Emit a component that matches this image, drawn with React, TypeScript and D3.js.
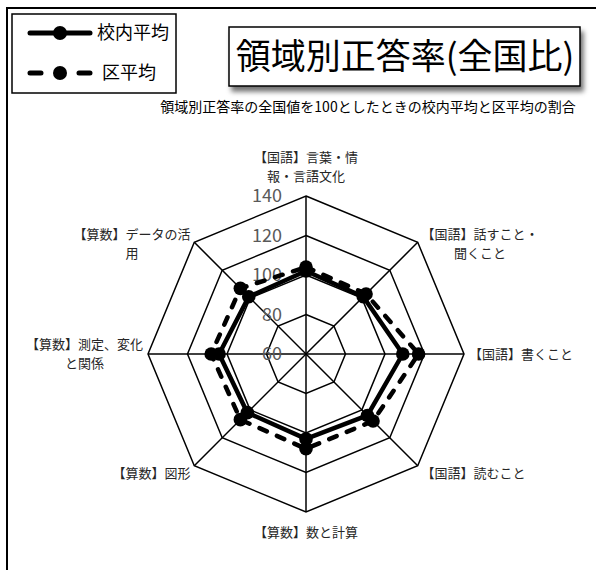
import React from 'react';
import * as d3 from 'd3';

// categories (clockwise from the top), split into the lines Excel wraps them to
const categories = [
  ['【国語】言葉・情', '報・言語文化'],
  ['【国語】話すこと・', '聞くこと'],
  ['【国語】書くこと'],
  ['【国語】読むこと'],
  ['【算数】数と計算'],
  ['【算数】図形'],
  ['【算数】測定、変化', 'と関係'],
  ['【算数】データの活', '用'],
];
const schoolAvg = [102, 101, 109, 104, 103, 102, 104, 101];
const wardAvg = [104, 103, 117, 108, 108, 107, 108, 107];
const tickValues = [60, 80, 100, 120, 140];
const seriesNames = ['校内平均', '区平均'];
const titleText = '領域別正答率(全国比)';
const subtitleText = '領域別正答率の全国値を100としたときの校内平均と区平均の割合';

const FONT = '"Noto Sans CJK JP", "Noto Sans", sans-serif';

function RadarChart() {
  const svgRef = React.useRef<SVGSVGElement>(null);

  const width = 596;
  const height = 570;
  const cx = 306;
  const cy = 354;
  const R = 158;

  React.useEffect(() => {
    const svg = d3.select(svgRef.current);
    svg.selectAll('*').remove();

    // drop shadow for the title box
    const defs = svg.append('defs');
    defs.append('filter')
      .attr('id', 'shadow')
      .attr('x', '-10%').attr('y', '-20%').attr('width', '130%').attr('height', '160%')
      .append('feDropShadow')
      .attr('dx', 3).attr('dy', 5)
      .attr('stdDeviation', 2.5)
      .attr('flood-color', '#000')
      .attr('flood-opacity', 0.55);

    // outer chart frame (runs off the page on the right and bottom)
    svg.append('rect')
      .attr('x', 7).attr('y', 8)
      .attr('width', 620).attr('height', 620)
      .attr('fill', 'white')
      .attr('stroke', '#000')
      .attr('stroke-width', 2);

    const n = categories.length;
    const angle = d3.scaleLinear().domain([0, n]).range([0, 2 * Math.PI]);
    const r = d3.scaleLinear().domain([60, 140]).range([0, R]);
    const pt = (i: number, rad: number): [number, number] => [
      cx + rad * Math.sin(angle(i)),
      cy - rad * Math.cos(angle(i)),
    ];

    const g = svg.append('g');

    // grid octagons
    tickValues.slice(1).forEach((v) => {
      const pts = d3.range(n).map((i) => pt(i, r(v)));
      g.append('path')
        .attr('d', d3.line()(pts) + 'Z')
        .attr('fill', 'none')
        .attr('stroke', '#000')
        .attr('stroke-width', 1.5);
    });

    // spokes
    d3.range(n).forEach((i) => {
      const [x, y] = pt(i, R);
      g.append('line')
        .attr('x1', cx).attr('y1', cy)
        .attr('x2', x).attr('y2', y)
        .attr('stroke', '#000')
        .attr('stroke-width', 1.5);
    });

    // tick labels
    tickValues.forEach((v) => {
      g.append('text')
        .attr('x', cx - 24)
        .attr('y', cy - r(v))
        .attr('dy', '0.35em')
        .attr('text-anchor', 'end')
        .attr('font-family', FONT)
        .attr('font-size', 18)
        .attr('fill', '#595959')
        .text(v);
    });

    // series
    const radial = d3.line<number>()
      .x((d, i) => pt(i, r(d))[0])
      .y((d, i) => pt(i, r(d))[1])
      .curve(d3.curveLinearClosed);

    const series = [
      { values: wardAvg, dash: '8 11' },
      { values: schoolAvg, dash: null },
    ];
    series.forEach((s) => {
      g.append('path')
        .attr('d', radial(s.values))
        .attr('fill', 'none')
        .attr('stroke', '#000')
        .attr('stroke-width', 4.5)
        .attr('stroke-linecap', 'round')
        .attr('stroke-linejoin', 'round')
        .attr('stroke-dasharray', s.dash);
      s.values.forEach((d, i) => {
        const [x, y] = pt(i, r(d));
        g.append('circle')
          .attr('cx', x).attr('cy', y)
          .attr('r', 6.8)
          .attr('fill', '#000');
      });
    });

    // category labels
    const fs = 13;
    const lh = 19;
    const textW = (s: string) =>
      Array.from(s).reduce((w, c) => w + (c.charCodeAt(0) < 256 ? 0.55 : 1) * fs, 0);
    categories.forEach((lines, i) => {
      const a = angle(i);
      const sx = Math.sin(a);
      const cyA = Math.cos(a);
      const [px, py] = pt(i, R + 4);
      const blockW = d3.max(lines, textW) as number;
      let bx = px;
      if (sx > 0.1) bx = px + 1 + blockW / 2;
      if (sx < -0.1) bx = px - 1 - blockW / 2;
      let ys: number[];
      if (Math.abs(sx) < 0.1) {
        ys = cyA > 0
          ? lines.map((_, k) => py - 16 - (lines.length - 1 - k) * lh)
          : lines.map((_, k) => py + 16 + k * lh);
      } else {
        const mid = py + 10 * Math.abs(sx * cyA);
        ys = lines.map((_, k) => mid + (k - (lines.length - 1) / 2) * lh);
      }
      lines.forEach((line, k) => {
        svg.append('text')
          .attr('x', bx)
          .attr('y', ys[k])
          .attr('dy', '0.35em')
          .attr('text-anchor', 'middle')
          .attr('font-family', FONT)
          .attr('font-size', fs)
          .attr('fill', '#262626')
          .text(line);
      });
    });

    // subtitle
    svg.append('text')
      .attr('x', 368).attr('y', 107)
      .attr('dy', '0.35em')
      .attr('text-anchor', 'middle')
      .attr('font-family', FONT)
      .attr('font-size', 14)
      .attr('fill', '#000')
      .text(subtitleText);

    // title box
    svg.append('rect')
      .attr('x', 229).attr('y', 27)
      .attr('width', 351).attr('height', 59)
      .attr('fill', 'white')
      .attr('stroke', '#000')
      .attr('stroke-width', 1.5)
      .attr('filter', 'url(#shadow)');
    svg.append('text')
      .attr('x', 405).attr('y', 56.5)
      .attr('dy', '0.35em')
      .attr('text-anchor', 'middle')
      .attr('font-family', FONT)
      .attr('font-size', 35)
      .attr('fill', '#000')
      .text(titleText);

    // legend
    const lg = svg.append('g');
    lg.append('rect')
      .attr('x', 12).attr('y', 14)
      .attr('width', 164).attr('height', 79)
      .attr('fill', 'white')
      .attr('stroke', '#000')
      .attr('stroke-width', 1.5);
    const legendY = [33, 73];
    const legendDash = [null, '11 38'];
    seriesNames.forEach((name, k) => {
      lg.append('line')
        .attr('x1', 30).attr('x2', 90)
        .attr('y1', legendY[k]).attr('y2', legendY[k])
        .attr('stroke', '#000')
        .attr('stroke-width', 5)
        .attr('stroke-linecap', 'round')
        .attr('stroke-dasharray', legendDash[k]);
      lg.append('circle')
        .attr('cx', 60).attr('cy', legendY[k])
        .attr('r', 7)
        .attr('fill', '#000');
      lg.append('text')
        .attr('x', k === 0 ? 97 : 102)
        .attr('y', legendY[k])
        .attr('dy', '0.35em')
        .attr('font-family', FONT)
        .attr('font-size', 18)
        .attr('fill', '#000')
        .text(name);
    });
  }, []);

  return (
    <svg
      ref={svgRef}
      width={width}
      height={height}
      style={{ position: 'absolute', left: 0, top: 0, display: 'block' }}
    />
  );
}

export default function App() {
  return <RadarChart />;
}
